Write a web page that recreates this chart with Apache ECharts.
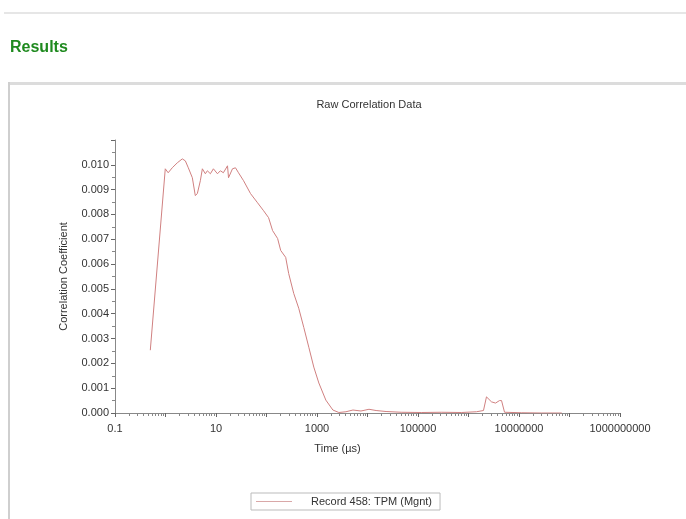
<!DOCTYPE html>
<html>
<head>
<meta charset="utf-8">
<script src="https://cdn.jsdelivr.net/npm/echarts@6/dist/echarts.min.js"></script>
<style>
  html, body { margin: 0; padding: 0; background: #fff; }
  #chart { width: 686px; height: 519px; }
</style>
</head>
<body>
<div id="chart"></div>
<script>
// Correlation delay times (µs) and measured correlation coefficients
const timeUs = [
  0.5, 0.99, 1.13, 1.36, 1.71, 2.15, 2.47, 2.83, 3.40, 3.89, 4.27, 4.90, 5.37,
  6.15, 6.75, 7.74, 8.88, 10.7, 12.2, 14.0, 16.9, 17.7, 21.2, 24.3, 27.9, 35.1,
  48.3, 66.5, 87.5, 110, 132, 166, 191, 240, 275, 346, 435, 547, 688, 864, 1087,
  1496, 2063, 2713, 3740, 5150, 7430, 10700, 14800, 23300, 46400, 116000, 289000,
  723000, 1440000, 1980000, 2270000, 2850000, 3430000, 4110000, 4510000, 5170000,
  11300000, 28100000, 70300000
];
const corrCoef = [
  0.00253, 0.00984, 0.00968, 0.00988, 0.01008, 0.01024, 0.01016, 0.00988, 0.00948,
  0.00876, 0.00884, 0.00936, 0.00984, 0.00964, 0.00976, 0.00964, 0.00984, 0.00964,
  0.00976, 0.00968, 0.00996, 0.00948, 0.00984, 0.00988, 0.00968, 0.00936, 0.00884,
  0.00847, 0.00815, 0.00787, 0.00735, 0.00703, 0.00655, 0.00627, 0.00562, 0.00482,
  0.00422, 0.00345, 0.00265, 0.00185, 0.00121, 0.00052, 0.00012, 0.00002, 0.00005,
  0.00012, 0.00008, 0.00015, 0.00010, 0.00006, 0.00003, 0.00002, 0.00003, 0.00002,
  0.00005, 0.00010, 0.00065, 0.00045, 0.00040, 0.00050, 0.00050, 0.00003, 0.00001,
  0.00000, 0.00000
];
// Time axis labels (every second decade)
const timeLabels = ['0.1', '10', '1000', '100000', '10000000', '1000000000'];
const seriesName = 'Record 458: TPM (Mgnt)';
const chartTitle = 'Raw Correlation Data';
const xAxisName = 'Time (µs)';
const yAxisName = 'Correlation Coefficient';
const sectionHeading = 'Results';

const points = timeUs.map((t, i) => [t, corrCoef[i]]);
const font = 'Liberation Sans, Arial, sans-serif';

function timeLabel(v) {
  const e = Math.round(Math.log10(v));
  const idx = (e + 1) / 2;
  return Number.isInteger(idx) && timeLabels[idx] !== undefined ? timeLabels[idx] : '';
}

const chart = echarts.init(document.getElementById('chart'), null, { renderer: 'canvas' });
chart.setOption({
  backgroundColor: '#fff',
  animation: false,
  title: {
    text: chartTitle,
    left: 364, top: 94, textAlign: 'center',
    textStyle: { fontFamily: font, fontSize: 11, fontWeight: 'normal', color: '#333' }
  },
  grid: { left: 115, right: 66, top: 140, bottom: 106, containLabel: false },
  legend: {
    left: 251, top: 493, width: 190,
    padding: [3, 8, 3, 5],
    borderColor: '#bbb', borderWidth: 1,
    itemWidth: 36, itemHeight: 10,
    icon: 'path://M0,5L36,5L36,6L0,6Z',
    textStyle: { fontFamily: font, fontSize: 11, color: '#333', padding: [0, 0, 0, 14] },
    data: [{ name: seriesName, itemStyle: { color: '#d9a8a8' } }]
  },
  xAxis: {
    type: 'log', logBase: 10, min: 0.1, max: 1e9,
    name: xAxisName, nameLocation: 'middle', nameGap: 30,
    nameTextStyle: { fontFamily: font, fontSize: 11, color: '#333', padding: [0, 60, 0, 0] },
    axisLine: { lineStyle: { color: '#888', width: 1 } },
    axisTick: { show: true, length: 4, lineStyle: { color: '#666' } },
    minorTick: { show: true, splitNumber: 10, length: 3, lineStyle: { color: '#888' } },
    splitLine: { show: false },
    axisLabel: {
      fontFamily: font, fontSize: 11, color: '#333', margin: 10,
      showMinLabel: true, showMaxLabel: true, hideOverlap: false,
      formatter: timeLabel
    }
  },
  yAxis: {
    type: 'value', min: 0, max: 0.011, interval: 0.001,
    name: yAxisName, nameLocation: 'middle', nameGap: 46, nameRotate: 90,
    nameTextStyle: { fontFamily: font, fontSize: 11, color: '#333' },
    axisLine: { show: true, lineStyle: { color: '#888', width: 1 } },
    axisTick: { show: true, length: 4, lineStyle: { color: '#666' } },
    minorTick: { show: true, splitNumber: 2, length: 3, lineStyle: { color: '#888' } },
    splitLine: { show: false },
    axisLabel: {
      fontFamily: font, fontSize: 11, color: '#333', margin: 6,
      formatter: v => (v > 0.0105 ? '' : v.toFixed(3))
    }
  },
  series: [{
    name: seriesName,
    type: 'line',
    data: points,
    showSymbol: false,
    lineStyle: { color: '#d08080', width: 1 },
    itemStyle: { color: '#d08080' }
  }],
  graphic: [
    { type: 'rect', shape: { x: 4, y: 12, width: 682, height: 2 }, style: { fill: '#e6e6e6' } },
    { type: 'text', left: 10, top: 40,
      style: { text: sectionHeading, fontFamily: font, fontSize: 16, fontWeight: 'bold', fill: '#1f8a1f' } },
    { type: 'rect', shape: { x: 8, y: 82, width: 678, height: 3 }, style: { fill: '#dcdcdc' } },
    { type: 'rect', shape: { x: 8, y: 82, width: 2, height: 437 }, style: { fill: '#cfcfcf' } }
  ]
});
</script>
</body>
</html>
